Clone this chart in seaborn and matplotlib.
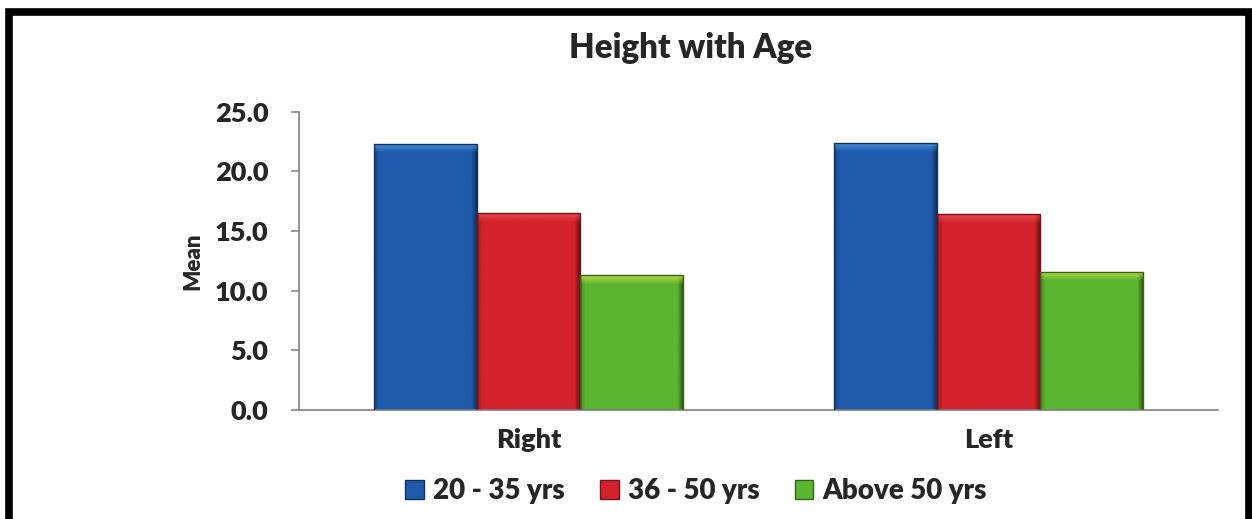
import numpy as np
import pandas as pd
import seaborn as sns
import matplotlib.pyplot as plt
from matplotlib.colors import to_rgb
from matplotlib.patches import Rectangle

# Chart data
sides = ["Right", "Left"]
age_groups = ["20 - 35 yrs", "36 - 50 yrs", "Above 50 yrs"]
mean_20_35 = [22.3, 22.4]
mean_36_50 = [16.5, 16.4]
mean_above_50 = [11.3, 11.6]
y_ticks = [0.0, 5.0, 10.0, 15.0, 20.0, 25.0]

colors = {"20 - 35 yrs": "#1f5bab", "36 - 50 yrs": "#d3222b", "Above 50 yrs": "#5cb531"}
top_tints = {"20 - 35 yrs": "#5aa8e8", "36 - 50 yrs": "#f0525a", "Above 50 yrs": "#d8e84a"}

df = pd.DataFrame({
    "Side": sides * 3,
    "Age": [g for g in age_groups for _ in sides],
    "Mean": mean_20_35 + mean_36_50 + mean_above_50,
})

sns.set_theme(style="white")
plt.rcParams["font.family"] = ["Lato", "DejaVu Sans"]
WEIGHT = "heavy"

fig = plt.figure(figsize=(12.52, 5.19), dpi=100)
ax = fig.add_axes([299 / 1252, 1 - 410 / 519, (1218 - 299) / 1252, (410 - 111.7) / 519])

sns.barplot(data=df, x="Side", y="Mean", hue="Age", order=sides, hue_order=age_groups,
            palette=colors, width=0.672, gap=0, edgecolor="none", linewidth=0,
            legend=False, ax=ax, zorder=2)

# Bevelled shading laid over each bar, clipped to the bar itself
bars = [p for p in ax.patches if p.get_height() > 0]
px_per_unit = (410 - 111.7) / 25.0
for i, bar in enumerate(bars):
    grp = age_groups[i // len(sides)]
    base = np.array(to_rgb(colors[grp]))
    tint = np.array(to_rgb(top_tints[grp]))
    x0, w, h = bar.get_x(), bar.get_width(), bar.get_height()
    nrows = max(int(h * px_per_unit), 2)
    ncols = 100
    u = np.linspace(0, 1, ncols)
    shade = np.ones(ncols)
    shade = np.where(u < 0.05, 0.75 + 0.25 * u / 0.05, shade)
    shade = np.where(u > 0.95, 0.55 + 0.45 * (1 - u) / 0.05, shade)
    img = np.tile(base, (nrows, ncols, 1)) * shade[None, :, None]
    band = 9
    for r in range(min(band, nrows)):
        t = 1 - r / band
        img[r] = img[r] * (1 - 0.75 * t) + tint * 0.75 * t
    img = np.clip(img, 0, 1)
    im = ax.imshow(img, extent=[x0, x0 + w, 0, h], aspect="auto", zorder=2.5,
                   interpolation="bilinear")
    im.set_clip_path(bar)
    ax.add_patch(Rectangle((x0, 0), w, h, fill=False, edgecolor=base * 0.55,
                           linewidth=1.0, zorder=2.6))

ax.set_xlim(-0.5, 1.5)
ax.set_ylim(0, 25)
ax.set_yticks(y_ticks)
ax.set_yticklabels([f"{v:.1f}" for v in y_ticks], fontsize=19.5, fontweight=WEIGHT)
ax.set_xticks([0, 1])
ax.set_xticklabels(sides, fontsize=19.5, fontweight=WEIGHT)
ax.set_xticks([-0.5, 0.5, 1.5], minor=True)
ax.tick_params(axis="x", which="major", length=0, pad=13)
ax.tick_params(axis="x", which="minor", length=6, width=1.2, color="#8a8a8a", direction="out")
ax.tick_params(axis="y", length=6, width=1.2, color="#8a8a8a", direction="out", pad=16, left=True)
ax.set_xlabel("")
ax.set_ylabel("Mean", fontsize=16, fontweight=WEIGHT, labelpad=8)
for side in ["top", "right"]:
    ax.spines[side].set_visible(False)
for side in ["left", "bottom"]:
    ax.spines[side].set_color("#8a8a8a")
    ax.spines[side].set_linewidth(1.3)

fig.text(691 / 1252, 1 - 48 / 519, "Height with Age", ha="center", va="center",
         fontsize=23.8, fontweight=WEIGHT)

handles = [Rectangle((0, 0), 1, 1, facecolor=colors[g], edgecolor=np.array(to_rgb(colors[g])) * 0.55)
           for g in age_groups]
fig.legend(handles, age_groups, loc="center", bbox_to_anchor=(696 / 1252, 1 - 491 / 519),
           ncol=3, frameon=False, prop={"weight": WEIGHT, "size": 20},
           handlelength=0.68, handleheight=0.68, handletextpad=0.33, columnspacing=1.26)

# Black frame around the chart area (open at the lower edge)
fig.patches.append(Rectangle((8.5 / 1252, -0.1), (1249 - 8.5) / 1252, 1.1 - 12 / 519,
                             transform=fig.transFigure, fill=False, edgecolor="black",
                             linewidth=5.5, zorder=10))

fig.savefig("out.png", dpi=100)
